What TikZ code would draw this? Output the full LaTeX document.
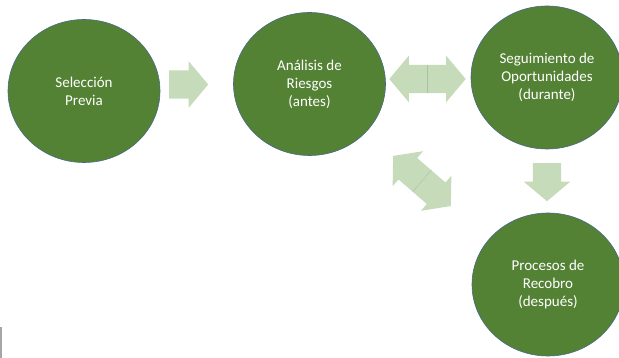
\documentclass[tikz,border=0pt]{standalone}
\usepackage{fontspec}
\setmainfont{Carlito}
\usetikzlibrary{shapes.geometric,shapes.arrows}

\begin{document}
\begin{tikzpicture}[x=1pt,y=1pt,
  etapa/.style={ellipse,draw=rim,line width=.6pt,fill=leaf,text=white,
    minimum width=152pt,minimum height=143pt,inner sep=0pt,align=center,
    font=\fontsize{15}{18}\selectfont},
  flecha/.style={single arrow,fill=pale,draw=none,inner xsep=0pt,inner ysep=14pt,
    minimum height=38pt,anchor=tail,
    single arrow head extend=9pt,single arrow tip angle=100}]

\definecolor{leaf}{RGB}{84,130,53};
\definecolor{rim}{RGB}{72,104,134};
\definecolor{pale}{RGB}{197,219,186};
\definecolor{seam}{RGB}{168,196,154};

\useasboundingbox (0,0) rectangle (619,358);

% las cuatro etapas
\node[etapa] (sel) at (84,267) {Selección\\Previa};
\node[etapa] (ana) at (309.5,274) {Análisis de\\Riesgos\\(antes)};
\node[etapa] (seg) at (547,280.5) {Seguimiento de\\Oportunidades\\(durante)};
\node[etapa] (rec) at (548,73.5) {Procesos de\\Recobro\\(después)};

% flechas (colocadas por la cola)
\node[flecha,minimum height=39pt] (f1) at (169,273.5) {};
\node[flecha,rotate=180] (f2a) at (427.5,279) {};
\node[flecha] (f2b) at (427.5,279) {};
\draw[seam,line width=.5pt] (f2b.before tail)--(f2b.after tail);
\node[flecha,rotate=139] (f3a) at (422,177) {};
\node[flecha,rotate=-41] (f3b) at (422,177) {};
\draw[seam,line width=.5pt] (f3b.before tail)--(f3b.after tail);
\node[flecha,rotate=-90] (f4) at (547,195) {};

% marca gris abajo a la izquierda
\draw[gray!70,line width=1.5pt] (1,0)--(1,31);

\end{tikzpicture}
\end{document}
